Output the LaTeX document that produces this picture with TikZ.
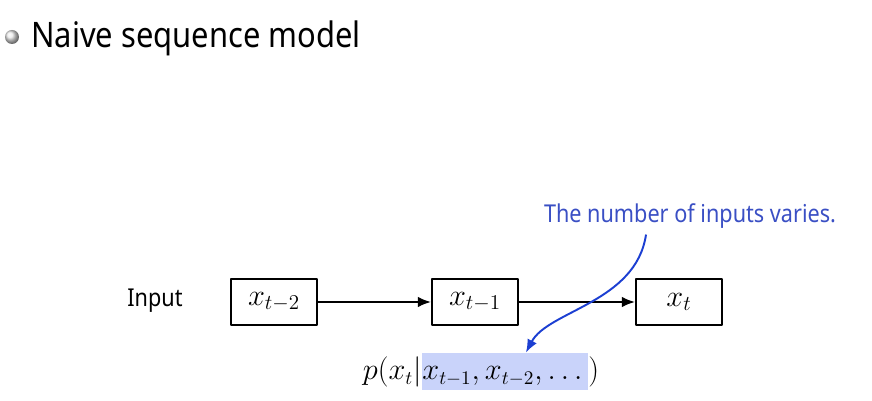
\documentclass[tikz,border=0pt]{standalone}
\usepackage{fontspec}
\newfontfamily\slidefont{Noto Sans}[FakeStretch=0.88]
\usepackage{amsmath}
\usetikzlibrary{arrows.meta,positioning}
\definecolor{annblue}{HTML}{3A4FC4}
\definecolor{arrblue}{HTML}{1C3FD2}
\definecolor{hlblue}{HTML}{C9D3FA}
\tikzset{
  every picture/.style={line join=round, >={Latex[length=7.5pt,width=6pt]}},
  state/.style={draw, line width=1.1pt, minimum width=1.72cm, minimum height=0.92cm, font=\fontsize{18.5}{21}\selectfont},
  seq/.style={->, line width=1.1pt},
  note/.style={->, arrblue, line width=1.1pt},
  formula/.style={font=\fontsize{16}{19}\selectfont},
}

\begin{document}
\begin{tikzpicture}[x=0.02cm,y=-0.02cm]
\useasboundingbox (0,0) rectangle (872,401);
\shade[ball color=gray!18] (12,37) circle (7);
\node[anchor=base west, inner sep=0, font=\slidefont\fontsize{20}{24}\selectfont] (title) at (31,48) {Naive sequence model};
\node[font=\slidefont\fontsize{14}{16}\selectfont] (inp) at (155,301) {Input};
\node[state] (xa) at (274,302) {$x_{t-2}$};
\node[state] (xb) at (475,302) {$x_{t-1}$};
\node[state] (xc) at (679,302) {$x_t$};
\draw[seq] (xa) -- (xb);
\draw[seq] (xb) -- (xc);
\node[formula, fill=hlblue, inner sep=0, text height=0.54cm, text depth=0.2cm, anchor=base west] (given) at (422,380) {$x_{t-1}, x_{t-2}, \ldots\,$};
\node[formula, anchor=base east, inner sep=0] (cond) at (given.base west) {$p(x_t|$};
\node[formula, anchor=base west, inner sep=0] (close) at (given.base east) {$)$};
\node[annblue, font=\slidefont\fontsize{14}{16}\selectfont] (ann) at (690,216) {The number of inputs varies.};
\draw[note] ([xshift=-0.88cm]ann.south) .. controls +(-10,68) and +(22,-42) .. ([xshift=0.42cm]given.north);
\end{tikzpicture}
\end{document}
